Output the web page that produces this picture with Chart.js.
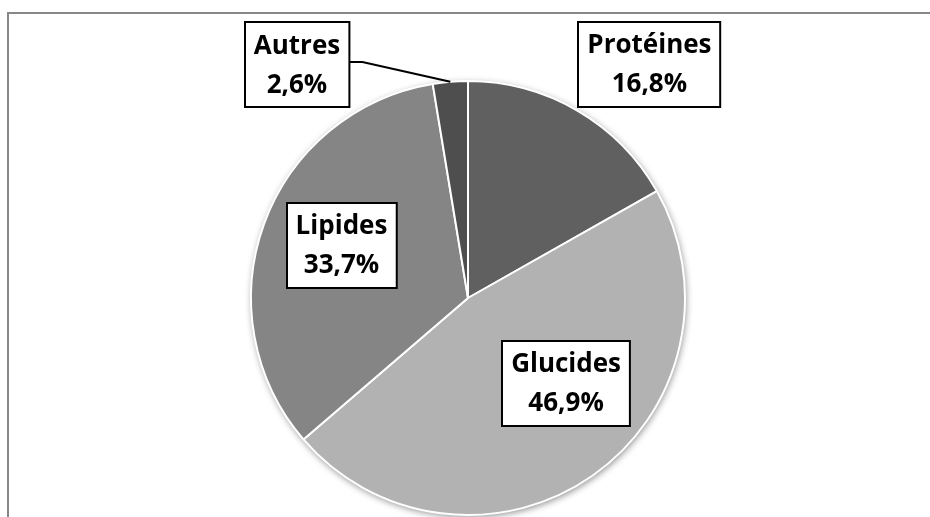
<!DOCTYPE html>
<html>
<head>
<meta charset="utf-8">
<script src="https://cdn.jsdelivr.net/npm/chart.js@4.4.1/dist/chart.umd.min.js"></script>
<style>
    html, body { margin: 0; padding: 0; background: #fff; overflow: hidden; }
    #frame {
        position: absolute; left: 7px; top: 12px; width: 1000px; height: 600px;
        border-left: 2px solid #878787; border-top: 2px solid #878787;
    }
    #pie { position: absolute; left: 0; top: 0; }
</style>
</head>
<body>
<div id="frame"></div>
<canvas id="pie" width="930" height="517"></canvas>
<script>
/* Répartition énergétique – camembert */
(function () {
    'use strict';

    var categories = ['Protéines', 'Glucides', 'Lipides', 'Autres'];
    var percents   = [16.8, 46.9, 33.7, 2.6];
    var valueLabels = ['16,8%', '46,9%', '33,7%', '2,6%'];
    var sliceColors = ['#606060', '#b2b2b2', '#858585', '#4e4e4e'];

    // label box centre, in radius units from the pie centre
    var labelSpots = [
        { x: 0.836, y: -1.076 },
        { x: 0.452, y: 0.394 },
        { x: -0.583, y: -0.244 },
        { x: -0.788, y: -1.074, leader: true }
    ];

    var FONT = 'bold 26px "Open Sans"';
    var LINE = 39;

    var shadowPlugin = {
        id: 'pieShadow',
        beforeDatasetsDraw: function (chart) {
            var arc = chart.getDatasetMeta(0).data[0];
            if (!arc) return;
            var ctx = chart.ctx;
            ctx.save();
            ctx.shadowColor = 'rgba(0,0,0,0.45)';
            ctx.shadowBlur = 7;
            ctx.shadowOffsetX = 1;
            ctx.shadowOffsetY = 2;
            ctx.fillStyle = '#b2b2b2';
            ctx.beginPath();
            ctx.arc(arc.x, arc.y, arc.outerRadius, 0, Math.PI * 2);
            ctx.fill();
            ctx.restore();
        }
    };

    var boxLabels = {
        id: 'boxLabels',
        afterDatasetsDraw: function (chart) {
            var ctx = chart.ctx;
            var arcs = chart.getDatasetMeta(0).data;
            ctx.save();
            ctx.font = FONT;
            ctx.textAlign = 'center';
            ctx.textBaseline = 'middle';
            arcs.forEach(function (arc, i) {
                var r = arc.outerRadius;
                var spot = labelSpots[i];
                var cx = arc.x + spot.x * r;
                var cy = arc.y + spot.y * r;
                var w = Math.max(ctx.measureText(categories[i]).width,
                                 ctx.measureText(valueLabels[i]).width) + 18;
                var h = LINE * 2 + 7;
                var left = Math.round(cx - w / 2), top = Math.round(cy - h / 2);

                if (spot.leader) {
                    var mid = (arc.startAngle + arc.endAngle) / 2;
                    var ex = arc.x + Math.cos(mid) * r;
                    var ey = arc.y + Math.sin(mid) * r;
                    ctx.strokeStyle = '#000';
                    ctx.lineWidth = 2;
                    ctx.beginPath();
                    ctx.moveTo(left + w, cy - 3);
                    ctx.lineTo(left + w + 13, cy - 3);
                    ctx.lineTo(ex, ey);
                    ctx.stroke();
                }

                ctx.fillStyle = '#fff';
                ctx.fillRect(left, top, w, h);
                ctx.strokeStyle = '#000';
                ctx.lineWidth = 2;
                ctx.strokeRect(left, top, w, h);

                ctx.fillStyle = '#000';
                ctx.fillText(categories[i], cx, cy - LINE / 2 + 1);
                ctx.fillText(valueLabels[i], cx, cy + LINE / 2 + 1);
            });
            ctx.restore();
        }
    };

    new Chart(document.getElementById('pie'), {
        type: 'pie',
        data: {
            labels: categories,
            datasets: [{
                data: percents,
                backgroundColor: sliceColors,
                borderColor: '#ffffff',
                borderWidth: 2
            }]
        },
        options: {
            responsive: false,
            animation: false,
            radius: 217,
            layout: { padding: { left: 6, top: 79, right: 0, bottom: 0 } },
            plugins: {
                legend: { display: false },
                tooltip: { enabled: false }
            }
        },
        plugins: [shadowPlugin, boxLabels]
    });
}());
</script>
</body>
</html>
